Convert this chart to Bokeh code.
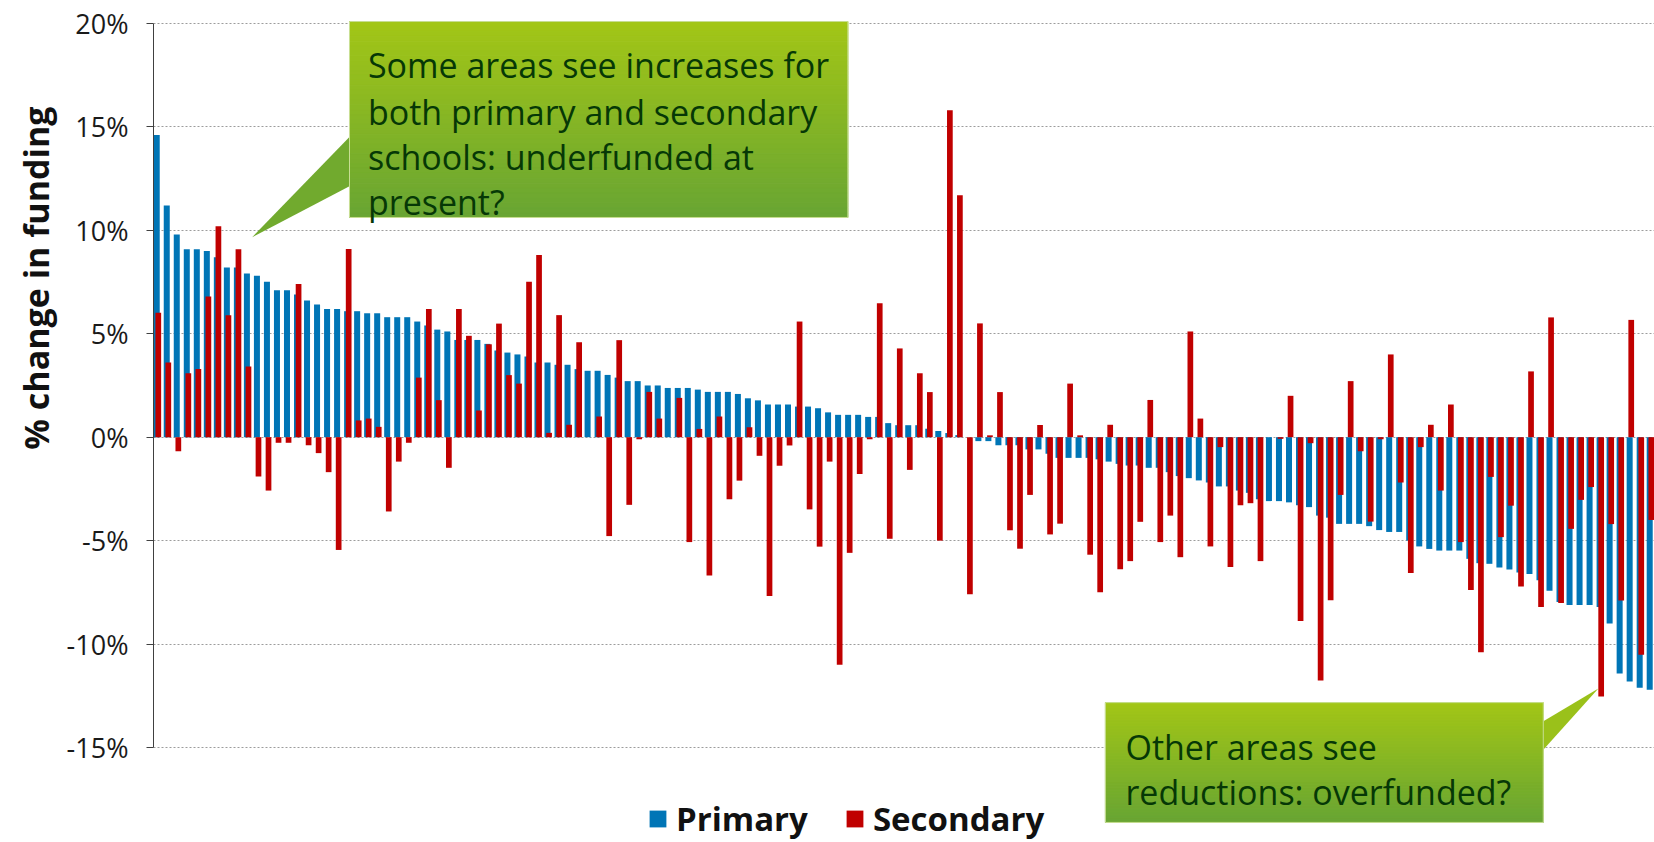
import numpy as np
from bokeh.plotting import figure
from bokeh.models import (Range1d, FixedTicker, Legend, LegendItem, Title,
                          ColumnDataSource)
from bokeh.core.properties import value
from bokeh.embed import file_html
from bokeh.resources import INLINE

# ---------------- data (% change in funding, one entry per area) ----------------
primary = [
    14.61, 11.2, 9.8, 9.09, 9.09, 9.0, 8.7, 8.2, 8.2, 7.91,
    7.8, 7.51, 7.1, 7.1, 6.9, 6.61, 6.41, 6.2, 6.2, 6.09,
    6.09, 5.99, 5.99, 5.8, 5.8, 5.8, 5.59, 5.4, 5.2, 5.11,
    4.7, 4.7, 4.7, 4.51, 4.19, 4.09, 4.0, 3.9, 3.61, 3.61,
    3.5, 3.5, 3.29, 3.21, 3.21, 3.01, 2.88, 2.71, 2.71, 2.5,
    2.5, 2.38, 2.38, 2.38, 2.3, 2.19, 2.19, 2.19, 2.09, 1.88,
    1.78, 1.58, 1.58, 1.58, 1.48, 1.48, 1.4, 1.2, 1.08, 1.08,
    1.08, 0.98, 0.98, 0.68, 0.58, 0.58, 0.58, 0.41, 0.3, 0.2,
    0.1, 0.0, -0.19, -0.19, -0.39, -0.39, -0.39, -0.59, -0.59, -0.8,
    -1.0, -1.0, -1.0, -1.0, -1.07, -1.18, -1.29, -1.37, -1.37, -1.48,
    -1.48, -1.69, -1.88, -1.98, -2.09, -2.19, -2.38, -2.38, -2.58, -2.69,
    -3.0, -3.09, -3.09, -3.15, -3.29, -3.38, -3.79, -3.89, -4.19, -4.19,
    -4.19, -4.3, -4.49, -4.58, -4.58, -5.0, -5.28, -5.4, -5.48, -5.48,
    -5.48, -5.88, -6.09, -6.12, -6.3, -6.4, -6.54, -6.61, -6.92, -7.42,
    -7.96, -8.11, -8.11, -8.11, -8.21, -9.0, -11.42, -11.81, -12.11, -12.21,
]
secondary = [
    6.01, 3.61, -0.68, 3.09, 3.3, 6.8, 10.2, 5.9, 9.09, 3.42,
    -1.9, -2.58, -0.27, -0.27, 7.41, -0.39, -0.77, -1.69, -5.45, 9.1,
    0.81, 0.9, 0.5, -3.59, -1.18, -0.27, 2.88, 6.2, 1.79, -1.48,
    6.2, 4.9, 1.29, 4.49, 5.49, 3.0, 2.59, 7.51, 8.81, 0.21,
    5.9, 0.6, 4.59, 0.0, 1.0, -4.78, 4.69, -3.27, -0.1, 2.19,
    0.9, 0.0, 1.9, -5.07, 0.4, -6.69, 1.0, -3.0, -2.1, 0.48,
    -0.9, -7.68, -1.38, -0.4, 5.59, -3.49, -5.29, -1.18, -11.0, -5.59,
    -1.78, -0.1, 6.48, -4.91, 4.29, -1.58, 3.09, 2.18, -5.0, 15.8,
    11.7, -7.59, 5.5, 0.09, 2.18, -4.5, -5.39, -2.79, 0.59, -4.7,
    -4.18, 2.59, 0.09, -5.68, -7.49, 0.6, -6.38, -5.99, -4.09, 1.8,
    -5.07, -3.79, -5.8, 5.11, 0.9, -5.28, -0.48, -6.28, -3.29, -3.19,
    -5.99, 0.0, -0.08, 2.0, -8.89, -0.29, -11.76, -7.88, -2.79, 2.71,
    -0.68, -4.08, -0.1, 4.0, -2.19, -6.57, -0.48, 0.6, -2.58, 1.58,
    -5.07, -7.38, -10.39, -1.92, -4.83, -3.31, -7.22, 3.18, -8.21, 5.79,
    -8.01, -4.43, -3.03, -2.41, -12.53, -4.2, -7.89, 5.67, -10.52, -4.0,
]
areas = list(range(len(primary)))
y_ticks = [-15, -10, -5, 0, 5, 10, 15, 20]
y_tick_labels = ["-15%", "-10%", "-5%", "0%", "5%", "10%", "15%", "20%"]
y_title = "% change in funding"
series_names = ["Primary", "Secondary"]
note_top = ["Some areas see increases for", "both primary and secondary",
            "schools: underfunded at", "present?"]
note_bottom = ["Other areas see", "reductions: overfunded?"]

FONT = "Open Sans"
BLUE = "#0075b6"
RED = "#c00000"

p = figure(width=1654, height=842, output_backend="svg", toolbar_location=None,
           x_range=Range1d(-0.4, 149.4), y_range=Range1d(-19.59, 21.107),
           x_axis_location=None, min_border_left=153, min_border_right=0,
           min_border_top=0, min_border_bottom=0)
p.outline_line_color = None
p.background_fill_color = "white"
p.xgrid.visible = False
p.ygrid.ticker = FixedTicker(ticks=y_ticks)
p.ygrid.grid_line_color = "#9c9c9c"
p.ygrid.grid_line_dash = "2 2"
p.ygrid.grid_line_width = 1

ax = p.yaxis[0]
ax.ticker = FixedTicker(ticks=y_ticks)
ax.major_label_overrides = {t: l for t, l in zip(y_ticks, y_tick_labels)}
ax.bounds = (-15, 20)
ax.axis_line_color = "#404040"
ax.major_tick_line_color = "#404040"
ax.major_tick_in = 0
ax.major_tick_out = 7
ax.minor_tick_line_color = None
ax.major_label_standoff = 18
ax.major_label_text_font = FONT
ax.major_label_text_font_size = "27px"
ax.major_label_text_color = "#1a1a1a"

# axis title, placed toward the top like the reference
p.add_layout(Title(text=y_title, align="right", offset=106, vertical_align="top",
                   standoff=6, text_font=FONT, text_font_size="34px",
                   text_font_style="bold", text_color="#111111"), "left")

src = ColumnDataSource(dict(area=areas, primary=primary, secondary=secondary))
rb = p.vbar(x=[a - 0.078 for a in areas], top=primary, bottom=0, width=0.6,
            fill_color=BLUE, line_color=None)
rr = p.vbar(x=[a + 0.078 for a in areas], top=secondary, bottom=0, width=0.57,
            fill_color=RED, line_color=None)


def mix(c1, c2, t):
    a = [int(c1[i:i + 2], 16) for i in (1, 3, 5)]
    b = [int(c2[i:i + 2], 16) for i in (1, 3, 5)]
    return "#%02x%02x%02x" % tuple(round(a[k] + (b[k] - a[k]) * t) for k in range(3))


C_TOP, C_BOT = "#a3c616", "#68a533"


def callout(x0, x1, ytop, ybot, pointer, nstrip=40):
    ys = np.linspace(ytop, ybot, nstrip + 1)
    cols = [mix(C_TOP, C_BOT, (k + 0.5) / nstrip) for k in range(nstrip)]
    px = [q[0] for q in pointer]
    py = [q[1] for q in pointer]
    ymid = sum(py) / 3.0
    tp = min(max((ytop - ymid) / (ytop - ybot), 0), 1)
    p.patch(px, py, fill_color=mix(C_TOP, C_BOT, tp), line_color=None)
    p.quad(left=x0, right=x1, top=ys[:-1], bottom=ys[1:], fill_color=cols,
           line_color=cols, line_width=1)
    p.quad(left=[x0], right=[x1], top=[ytop], bottom=[ybot], fill_color=None,
           line_color="#c9df95", line_width=1)


# upper callout
callout(19.16, 68.9, 20.09, 10.62, [(19.3, 14.58), (9.45, 9.67), (19.3, 12.16)])
p.text(x=[21.0] * 4, y=[17.97, 15.73, 13.53, 11.36], text=note_top,
       text_font=value(FONT), text_font_size="34px", text_color="#063806",
       text_baseline="alphabetic", text_align="left")

# lower callout
callout(94.6, 138.3, -12.83, -18.62, [(138.1, -13.79), (143.8, -12.15), (138.1, -15.22)])
p.text(x=[96.6] * 2, y=[-14.98, -17.16], text=note_bottom,
       text_font=value(FONT), text_font_size="34px", text_color="#063806",
       text_baseline="alphabetic", text_align="left")

legend = Legend(items=[LegendItem(label=series_names[0], renderers=[rb]),
                       LegendItem(label=series_names[1], renderers=[rr])],
                orientation="horizontal", location=(494, 1),
                glyph_width=21, glyph_height=21, label_standoff=8, spacing=36,
                padding=0, margin=0, border_line_color=None,
                background_fill_alpha=0, label_text_font=FONT,
                label_text_font_size="33px", label_text_font_style="bold",
                label_text_color="#111111")
p.add_layout(legend)

open("out.html", "w").write(file_html(p, INLINE))
